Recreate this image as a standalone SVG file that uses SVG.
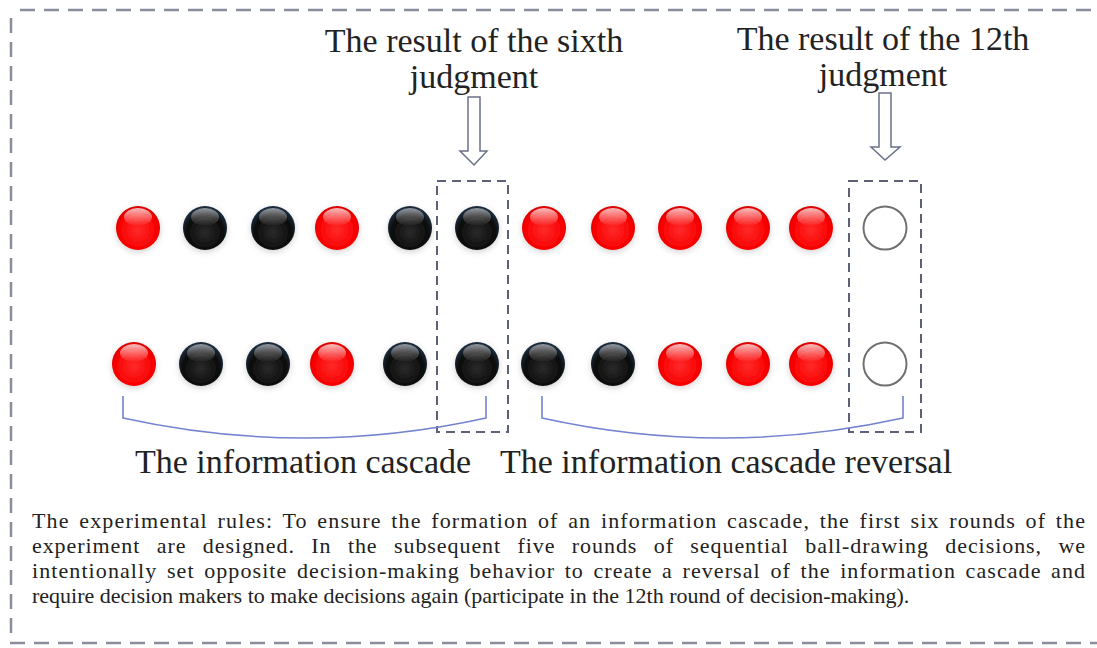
<svg xmlns="http://www.w3.org/2000/svg" width="1097" height="648" viewBox="0 0 1097 648">
<defs>
<style>
.serif{font-family:"Liberation Serif","Times New Roman",serif;fill:#222;}
.title{font-size:34px;text-anchor:middle;}
.label{font-size:34px;}
.para{font-size:22px;}
.outer{stroke:#8a8e9c;stroke-width:2.5;stroke-dasharray:15 9;fill:none;}
.box{stroke:#5c6178;stroke-width:2;stroke-dasharray:9 6;fill:none;}
.arrow{fill:#fff;stroke:#6a7088;stroke-width:1.5;}
.brace{fill:none;stroke:#7483cf;stroke-width:1.6;}
.empty{fill:#fff;stroke:#707070;stroke-width:2;}
</style>
<radialGradient id="redG" cx="0.5" cy="0.55" r="0.55">
<stop offset="0" stop-color="#ff2a2a"/>
<stop offset="0.8" stop-color="#f80000"/>
<stop offset="1" stop-color="#d40000"/>
</radialGradient>
<radialGradient id="blackG" cx="0.5" cy="0.6" r="0.55">
<stop offset="0" stop-color="#2a2a2a"/>
<stop offset="0.75" stop-color="#0c0c0c"/>
<stop offset="1" stop-color="#1a2a3a"/>
</radialGradient>
<linearGradient id="hl" x1="0" y1="0" x2="0" y2="1">
<stop offset="0" stop-color="#fff" stop-opacity="0.75"/>
<stop offset="1" stop-color="#fff" stop-opacity="0"/>
</linearGradient>
<filter id="sh" x="-40%" y="-40%" width="180%" height="180%">
<feDropShadow dx="0" dy="2" stdDeviation="3" flood-color="#000" flood-opacity="0.18"/>
</filter>
<g id="red">
<circle r="22" fill="url(#redG)" filter="url(#sh)"/>
<ellipse cx="0" cy="-11" rx="14" ry="9" fill="url(#hl)"/>
</g>
<g id="black">
<circle r="22" fill="url(#blackG)" filter="url(#sh)"/>
<ellipse cx="0" cy="-11" rx="14" ry="9" fill="url(#hl)" opacity="0.7"/>
</g>
</defs>
<rect width="1097" height="648" fill="#fff"/>

<g id="frame">
<line class="outer" x1="20" y1="10" x2="1097" y2="10"/>
<line class="outer" x1="11" y1="18" x2="11" y2="636"/>
<line class="outer" x1="10" y1="643" x2="1097" y2="643"/>
</g>

<g id="title-sixth">
<text class="serif title" x="474" y="52">The result of the sixth</text>
<text class="serif title" x="474" y="88">judgment</text>
</g>
<g id="title-12th">
<text class="serif title" x="883" y="50">The result of the 12th</text>
<text class="serif title" x="883" y="86">judgment</text>
</g>

<g id="arrow-sixth">
<polygon class="arrow" points="468,97 480,97 480,151 487,151 474,165 460,151 468,151"/>
</g>
<g id="arrow-12th">
<polygon class="arrow" points="879,93 891,93 891,147 900,147 885,160 871,147 879,147"/>
</g>

<g id="box-sixth"><rect class="box" x="437" y="181" width="71" height="251"/></g>
<g id="box-12th"><rect class="box" x="849" y="181" width="72" height="251"/></g>

<g id="row1">
<use href="#red" x="138" y="228"/>
<use href="#black" x="205" y="228"/>
<use href="#black" x="273" y="228"/>
<use href="#red" x="337" y="228"/>
<use href="#black" x="410" y="228"/>
<use href="#black" x="477" y="228"/>
<use href="#red" x="544" y="228"/>
<use href="#red" x="613" y="228"/>
<use href="#red" x="680" y="228"/>
<use href="#red" x="748" y="228"/>
<use href="#red" x="811" y="228"/>
<circle class="empty" cx="885" cy="228" r="21.5"/>
</g>

<g id="row2">
<use href="#red" x="134" y="364"/>
<use href="#black" x="201" y="364"/>
<use href="#black" x="268" y="364"/>
<use href="#red" x="332" y="364"/>
<use href="#black" x="405" y="364"/>
<use href="#black" x="477" y="364"/>
<use href="#black" x="543" y="364"/>
<use href="#black" x="613" y="364"/>
<use href="#red" x="680" y="364"/>
<use href="#red" x="748" y="364"/>
<use href="#red" x="811" y="364"/>
<circle class="empty" cx="885" cy="364" r="21.5"/>
</g>

<g id="connectors">
<path class="brace" d="M123,396 V418 Q305,458 486,418 V396"/>
<path class="brace" d="M542,396 V418 Q722,458 903,418 V396"/>
</g>

<g id="label-cascade">
<text class="serif label" x="135" y="473">The information cascade</text>
</g>
<g id="label-reversal">
<text class="serif label" x="500" y="473">The information cascade reversal</text>
</g>

<g id="rules">
<text class="serif para" x="32" y="528" word-spacing="3" textLength="1053" lengthAdjust="spacing">The experimental rules: To ensure the formation of an information cascade, the first six rounds of the</text>
<text class="serif para" x="32" y="553" word-spacing="10" textLength="1053" lengthAdjust="spacing">experiment are designed. In the subsequent five rounds of sequential ball-drawing decisions, we</text>
<text class="serif para" x="32" y="578" word-spacing="3" textLength="1053" lengthAdjust="spacing">intentionally set opposite decision-making behavior to create a reversal of the information cascade and</text>
<text class="serif para" x="32" y="603">require decision makers to make decisions again (participate in the 12th round of decision-making).</text>
</g>
</svg>
